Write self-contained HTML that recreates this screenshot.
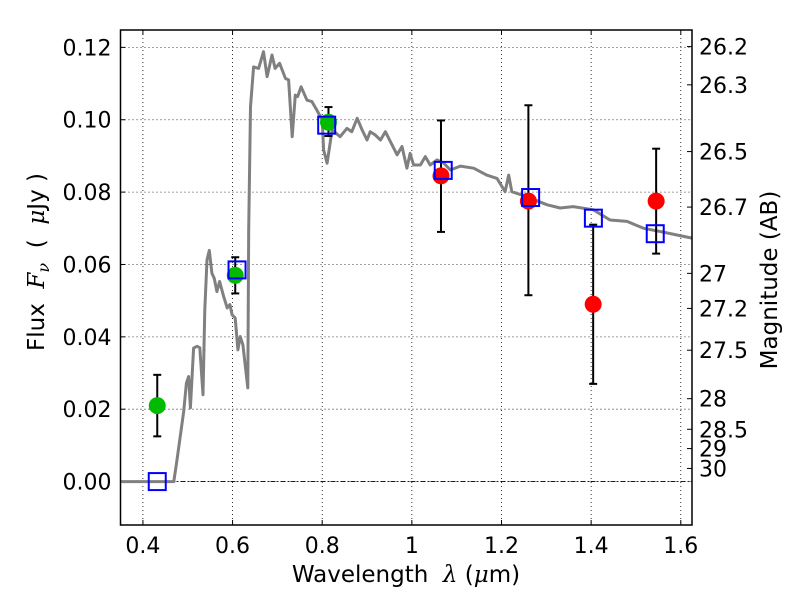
<!DOCTYPE html>
<html><head><meta charset="utf-8">
<style>
html,body{margin:0;padding:0;background:#fff;}
svg{display:block;font-family:"DejaVu Sans","Liberation Sans",sans-serif;}
</style></head>
<body>
<svg id="chart" width="800" height="600" viewBox="0 0 800 600"></svg>
<script>
const xTicks=[0.4,0.6,0.8,1.0,1.2,1.4,1.6];
const xTickLabels=["0.4","0.6","0.8","1","1.2","1.4","1.6"];
const yTicks=[0,0.02,0.04,0.06,0.08,0.10,0.12];
const yTickLabels=["0.00","0.02","0.04","0.06","0.08","0.10","0.12"];
const magTicks=[26.2,26.3,26.5,26.7,27,27.2,27.5,28,28.5,29,30];
const magTickLabels=["26.2","26.3","26.5","26.7","27","27.2","27.5","28","28.5","29","30"];
const specWave=[0.35,0.469,0.476,0.491,0.497,0.502,0.506,0.513,0.521,0.527,0.534,0.538,0.543,0.548,0.554,0.559,0.565,0.571,0.580,0.588,0.594,0.599,0.606,0.612,0.617,0.623,0.634,0.636,0.640,0.647,0.658,0.669,0.677,0.688,0.695,0.705,0.718,0.725,0.733,0.740,0.745,0.753,0.766,0.777,0.788,0.800,0.803,0.811,0.822,0.840,0.855,0.866,0.878,0.889,0.900,0.907,0.918,0.930,0.941,0.952,0.967,0.978,0.989,0.996,1.004,1.019,1.030,1.041,1.056,1.071,1.086,1.108,1.138,1.167,1.190,1.208,1.216,1.223,1.25,1.302,1.331,1.36,1.405,1.442,1.480,1.517,1.554,1.625];
const specFlux=[0,0,0.006,0.0194,0.0272,0.029,0.0204,0.0369,0.0374,0.037,0.024,0.0475,0.0613,0.0639,0.0576,0.0562,0.0525,0.0553,0.0512,0.048,0.0489,0.0461,0.0452,0.0364,0.0401,0.0378,0.0259,0.0696,0.1036,0.1146,0.1142,0.1188,0.1119,0.1179,0.1142,0.1156,0.1114,0.111,0.0953,0.1068,0.1064,0.1091,0.1054,0.105,0.1027,0.0999,0.0917,0.088,0.0972,0.0953,0.0976,0.0967,0.1004,0.0972,0.0944,0.0967,0.0958,0.0944,0.0967,0.094,0.0903,0.0926,0.0866,0.0907,0.0875,0.0875,0.0898,0.0875,0.0889,0.088,0.0861,0.0872,0.0866,0.0847,0.0838,0.0801,0.0847,0.0801,0.079,0.0765,0.0756,0.076,0.0751,0.0723,0.0719,0.070,0.0691,0.0673];
const greenWave=[0.432,0.606,0.814];
const greenFlux=[0.021,0.057,0.0993];
const greenLo=[0.0125,0.052,0.0955];
const greenHi=[0.0295,0.062,0.1035];
const redWave=[1.065,1.26,1.4045,1.545];
const redFlux=[0.0845,0.0775,0.049,0.0775];
const redLo=[0.069,0.0515,0.027,0.063];
const redHi=[0.0998,0.104,0.071,0.092];
const modelWave=[0.432,0.61,0.81,1.07,1.265,1.405,1.543];
const modelFlux=[0.0,0.0585,0.0985,0.086,0.0785,0.0728,0.0685];

const L=120.5,R=692,T=30,B=525,XMIN=0.35,XMAX=1.625,YMIN=-0.012,YMAX=0.1248;
const sx=v=>L+(v-XMIN)/(XMAX-XMIN)*(R-L);
const sy=v=>B-(v-YMIN)/(YMAX-YMIN)*(B-T);
const magToFlux=m=>Math.pow(10,(23.9-m)/2.5);
const svg=document.getElementById('chart');
const NS='http://www.w3.org/2000/svg';
function mk(tag,attrs,parent){const e=document.createElementNS(NS,tag);for(const k in attrs)e.setAttribute(k,attrs[k]);(parent||svg).appendChild(e);return e;}

xTicks.forEach((t,i)=>{
 const g=mk('line',{x1:sx(t),x2:sx(t),y1:T,y2:B,stroke:'#000','stroke-width':0.8,'stroke-dasharray':'1,3'});
 
 
 const tk=mk('line',{x1:sx(t),x2:sx(t),y1:B,y2:B-5,stroke:'#000','stroke-width':1});
 
 
 const tk2=mk('line',{x1:sx(t),x2:sx(t),y1:T,y2:T+5,stroke:'#000','stroke-width':1});
 
 
 const lb=mk('text',{x:sx(t),y:B+28,'font-size':22,'text-anchor':'middle'});
 lb.textContent=xTickLabels[i];
 
 
});
yTicks.forEach((t,i)=>{
 const g=mk('line',{x1:L,x2:R,y1:sy(t),y2:sy(t),stroke:'#000','stroke-width':0.8,'stroke-dasharray':'1,3'});
 
 
 const tk=mk('line',{x1:L,x2:L+5,y1:sy(t),y2:sy(t),stroke:'#000','stroke-width':1});
 
 
 const lb=mk('text',{x:L-9,y:sy(t)+8,'font-size':22,'text-anchor':'end'});
 lb.textContent=yTickLabels[i];
 
 
});
magTicks.forEach((m,i)=>{
 const y=sy(magToFlux(m));
 const tk=mk('line',{x1:R-5,x2:R,y1:y,y2:y,stroke:'#000','stroke-width':1});
 
 
 const lb=mk('text',{x:R+7,y:y+8,'font-size':22,'text-anchor':'start'});
 lb.textContent=magTickLabels[i];
 
 
});
const z=mk('line',{x1:L,x2:R,y1:sy(0),y2:sy(0),stroke:'#000','stroke-width':0.8,'stroke-dasharray':'5,2,1,2'});



const pts=specWave.map((w,i)=>sx(w).toFixed(1)+','+sy(specFlux[i]).toFixed(1)).join(' ');
const sp=mk('polyline',{points:pts,fill:'none',stroke:'#808080','stroke-width':3,'stroke-linejoin':'round'});



function errbar(w,lo,hi,name){
 const g=mk('g',{});
 
 
 const x=sx(w);
 mk('line',{x1:x,x2:x,y1:sy(lo),y2:sy(hi),stroke:'#000','stroke-width':2},g);
 mk('line',{x1:x-4,x2:x+4,y1:sy(lo),y2:sy(lo),stroke:'#000','stroke-width':2},g);
 mk('line',{x1:x-4,x2:x+4,y1:sy(hi),y2:sy(hi),stroke:'#000','stroke-width':2},g);
}
greenWave.forEach((w,i)=>{
 errbar(w,greenLo[i],greenHi[i],'green-error-bar');
 const c=mk('circle',{cx:sx(w),cy:sy(greenFlux[i]),r:8.5,fill:'#00bb00'});
 
 
});
redWave.forEach((w,i)=>{
 errbar(w,redLo[i],redHi[i],'red-error-bar');
 const c=mk('circle',{cx:sx(w),cy:sy(redFlux[i]),r:8.5,fill:'#ff0000'});
 
 
});
modelWave.forEach((w,i)=>{
 const s=mk('rect',{x:sx(w)-8.5,y:sy(modelFlux[i])-8.5,width:17,height:17,fill:'none',stroke:'#0000ff','stroke-width':2});
 
 
});
const fr=mk('rect',{x:L,y:T,width:R-L,height:B-T,fill:'none',stroke:'#000','stroke-width':1.5});


</script>
<div style="position:absolute;left:0;top:0;width:800px;height:600px;pointer-events:none;">
<svg width="800" height="600" style="position:absolute;left:0;top:0">
<text x="406" y="582" font-size="23" text-anchor="middle" xml:space="preserve">Wavelength&#160;&#160;<tspan font-style="italic" font-family="DejaVu Serif,serif">λ</tspan> (<tspan font-style="italic" font-family="DejaVu Serif,serif">μ</tspan>m)</text>
<text transform="translate(44,262) rotate(-90)" font-size="23" text-anchor="middle">Flux&#160;&#160;<tspan font-style="italic" font-family="DejaVu Serif,serif">F</tspan><tspan font-style="italic" font-family="DejaVu Serif,serif" font-size="16" dy="5">ν</tspan><tspan dy="-5">&#160;&#160;(&#160;&#160;</tspan><tspan font-style="italic" font-family="DejaVu Serif,serif">μ</tspan>Jy )</text>
<text transform="translate(777,280) rotate(-90)" font-size="23" text-anchor="middle">Magnitude (AB)</text>
</svg>
</div>
</body></html>
